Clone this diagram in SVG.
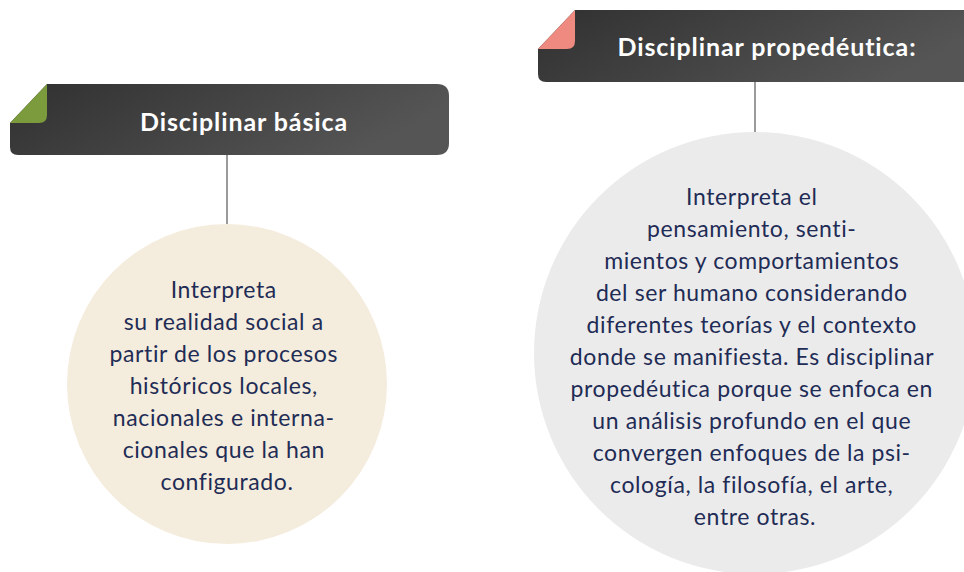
<svg xmlns="http://www.w3.org/2000/svg" width="964" height="572" viewBox="0 0 964 572">
<defs>
<linearGradient id="hdr" x1="0" y1="0" x2="1" y2="0.3">
<stop offset="0" stop-color="#303030"/>
<stop offset="1" stop-color="#555555"/>
</linearGradient>
<style>
.hdr{fill:url(#hdr);}
.ht{font-family:"Lato","Liberation Sans",sans-serif;font-weight:bold;font-size:25px;letter-spacing:0.9px;fill:#ffffff;text-anchor:middle;}
.bt{font-family:"Lato","Liberation Sans",sans-serif;font-size:23px;letter-spacing:0.6px;fill:#1f2c55;text-anchor:middle;}
.conn{stroke:#9a9a9a;stroke-width:2;fill:none;}
</style>
</defs>
<rect width="964" height="572" fill="#ffffff"/>
<g id="connectors">
<line class="conn" x1="227" y1="155" x2="227" y2="225"/>
<line class="conn" x1="755" y1="82" x2="755" y2="133"/>
</g>
<g id="header-basica">
<path class="hdr" d="M47,84 H437 Q449,84 449,96 V143 Q449,155 437,155 H18 Q10,155 10,147 V123 Z"/>
<path d="M10,123 L47,84 V115 Q47,123 39,123 Z" fill="#7b9b3c"/>
<text class="ht" x="244" y="131">Disciplinar básica</text>
</g>
<g id="header-propedeutica">
<path class="hdr" d="M575,10 H980 V82 H546 Q538,82 538,74 V49 Z"/>
<path d="M538,49 L575,10 V41 Q575,49 567,49 Z" fill="#ee8a80"/>
<text class="ht" x="767" y="56">Disciplinar propedéutica:</text>
</g>
<g id="circle-basica">
<circle cx="227" cy="384" r="160" fill="#f4ecdd"/>
<text class="bt" x="227">
<tspan x="227" y="298">Interpreta</tspan>
<tspan x="227" y="330">su realidad social a</tspan>
<tspan x="227" y="362">partir de los procesos</tspan>
<tspan x="227" y="394">históricos locales,</tspan>
<tspan x="227" y="426">nacionales e interna-</tspan>
<tspan x="227" y="458">cionales que la han</tspan>
<tspan x="227" y="490">configurado.</tspan>
</text>
</g>
<g id="circle-propedeutica">
<circle cx="755" cy="353" r="221" fill="#ebebec"/>
<text class="bt" x="755">
<tspan x="755" y="205">Interpreta el</tspan>
<tspan x="755" y="237">pensamiento, senti-</tspan>
<tspan x="755" y="269">mientos y comportamientos</tspan>
<tspan x="755" y="301">del ser humano considerando</tspan>
<tspan x="755" y="333">diferentes teorías y el contexto</tspan>
<tspan x="755" y="365">donde se manifiesta. Es disciplinar</tspan>
<tspan x="755" y="397">propedéutica porque se enfoca en</tspan>
<tspan x="755" y="429">un análisis profundo en el que</tspan>
<tspan x="755" y="461">convergen enfoques de la psi-</tspan>
<tspan x="755" y="493">cología, la filosofía, el arte,</tspan>
<tspan x="755" y="525">entre otras.</tspan>
</text>
</g>
</svg>
